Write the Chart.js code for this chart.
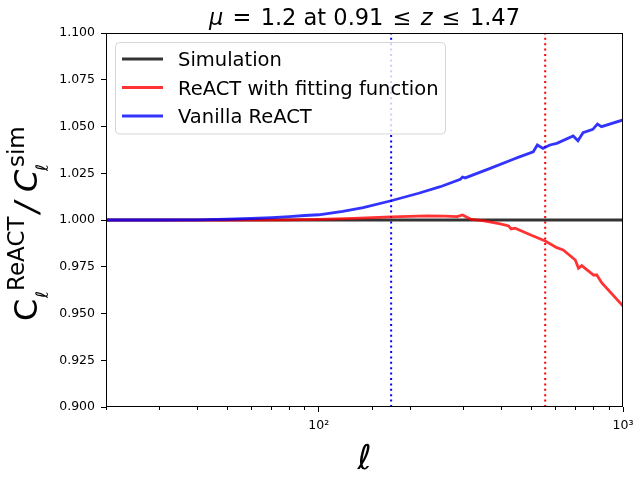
<!DOCTYPE html>
<html><head><meta charset="utf-8">
<script src="https://cdn.jsdelivr.net/npm/chart.js@4/dist/chart.umd.min.js"></script>
<style>html,body{margin:0;padding:0;background:#fff}</style>
</head><body>
<canvas id="c" width="640" height="480"></canvas>
<script>
// ---- data ----
const seriesLabels = ['Simulation', 'ReACT with fitting function', 'Vanilla ReACT'];
const ellSim = [20, 1000];
const simValues = [1.0, 1.0];
const ellFit = [20, 50, 80, 100, 130, 173, 227, 260, 285, 297, 315, 350, 395, 421, 429, 442, 500, 555, 606, 636, 697, 714, 732, 800, 820, 851, 1000];
const fitValues = [0.9999, 0.9999, 1.0001, 1.0003, 1.0009, 1.0017, 1.0022, 1.0021, 1.0018, 1.0027, 1.0005, 0.9995, 0.9979, 0.9968, 0.9952, 0.9956, 0.9918, 0.9888, 0.9852, 0.9840, 0.9786, 0.9742, 0.9756, 0.9706, 0.9706, 0.9665, 0.9540];
const ellVanilla = [20, 30, 40, 50, 60, 70, 80, 90, 100, 120, 140, 173, 213, 251, 292, 297, 303, 366, 436, 452, 507, 523, 546, 575, 606, 686, 711, 739, 796, 824, 850, 1000];
const vanillaValues = [1.0000, 1.0000, 1.0001, 1.0004, 1.0008, 1.0013, 1.0018, 1.0024, 1.0028, 1.0046, 1.0066, 1.0103, 1.0143, 1.0178, 1.0218, 1.0230, 1.0225, 1.0276, 1.0325, 1.0335, 1.0365, 1.0401, 1.0383, 1.0401, 1.0410, 1.0449, 1.0424, 1.0467, 1.0485, 1.0513, 1.0499, 1.0535];
const ellMarkVanilla = 173;   // blue dotted vertical line
const ellMarkFit = 555;       // red dotted vertical line
const xRange = [20, 1000];
const yRange = [0.9, 1.1];
const yStep = 0.025;
const xTickLabels = {100: '10\u00B2', 1000: '10\u00B3'};
// title pieces: [text, italic, relation-gap after]
const titlePieces = [['\u03BC', true, 1], ['=', false, 1], ['1.2 at 0.91', false, 1], ['\u2264', false, 1], ['z', true, 1], ['\u2264', false, 1], ['1.47', false, 0]];
const xTitle = '\u2113';

// ---- chart ----
const FAM = '"DejaVu Sans", sans-serif';
const pts = (xs, ys) => xs.map((x, i) => ({x: x, y: ys[i]}));

const decorPlugin = {
  id: 'decor',
  afterDatasetsDraw(chart) {
    const ctx = chart.ctx, a = chart.chartArea;
    ctx.save();
    // axes frame
    ctx.strokeStyle = '#000'; ctx.lineWidth = 1;
    ctx.strokeRect(Math.round(a.left) + 0.5, Math.round(a.top) + 0.5, Math.round(a.right - a.left) - 1, Math.round(a.bottom - a.top) - 1);
    // legend box
    const bx = 115.5, by = 42.5, bw = 330, bh = 91.5, r = 4;
    ctx.beginPath();
    ctx.moveTo(bx + r, by); ctx.lineTo(bx + bw - r, by); ctx.arcTo(bx + bw, by, bx + bw, by + r, r);
    ctx.lineTo(bx + bw, by + bh - r); ctx.arcTo(bx + bw, by + bh, bx + bw - r, by + bh, r);
    ctx.lineTo(bx + r, by + bh); ctx.arcTo(bx, by + bh, bx, by + bh - r, r);
    ctx.lineTo(bx, by + r); ctx.arcTo(bx, by, bx + r, by, r); ctx.closePath();
    ctx.fillStyle = 'rgba(255,255,255,0.8)'; ctx.fill();
    ctx.strokeStyle = 'rgba(204,204,204,0.8)'; ctx.stroke();
    const rows = [59, 87.5, 116];
    ctx.font = '19.5px ' + FAM; ctx.textBaseline = 'alphabetic'; ctx.textAlign = 'left';
    seriesLabels.forEach((lab, i) => {
      const ds = chart.data.datasets[i];
      ctx.strokeStyle = ds.borderColor; ctx.lineWidth = 3;
      ctx.beginPath(); ctx.moveTo(122, rows[i]); ctx.lineTo(163, rows[i]); ctx.stroke();
      ctx.fillStyle = '#000'; ctx.fillText(lab, 178, rows[i] + 7);
    });
    ctx.restore();
  },
  afterDraw(chart) {
    const ctx = chart.ctx, a = chart.chartArea;
    ctx.save();
    ctx.fillStyle = '#000'; ctx.textBaseline = 'alphabetic'; ctx.textAlign = 'left';
    // title: mathtext-like spacing
    const tf = (it) => (it ? 'italic ' : '') + '22.5px ' + FAM;
    const targetW = 311;
    let tw = 0, ngaps = 0;
    titlePieces.forEach(p => { ctx.font = tf(p[1]); tw += ctx.measureText(p[0]).width; ngaps += p[2]; });
    const gap = Math.max(4, (targetW - tw) / ngaps);
    let tx = (a.left + a.right) / 2 - targetW / 2;
    titlePieces.forEach(p => { ctx.font = tf(p[1]); ctx.fillText(p[0], tx, 25); tx += ctx.measureText(p[0]).width + gap * p[2]; });
    // x title
    ctx.font = 'italic 34px ' + FAM; ctx.textAlign = 'center';
    ctx.fillText(xTitle, (a.left + a.right) / 2, 469);
    // y title (rotated, with sub/superscripts)
    ctx.textAlign = 'left';
    ctx.translate(37, 321);
    ctx.rotate(-Math.PI / 2);
    const bigUp = '32px ' + FAM, bigIt = 'italic 32px ' + FAM, small = '23px ' + FAM, sub = 'italic 17px ' + FAM;
    ctx.font = bigUp; ctx.fillText('C', 0, 0);
    ctx.font = small; ctx.fillText('ReACT', 30, -13);
    ctx.font = sub; ctx.fillText('\u2113', 23, 11);
    ctx.font = bigIt; ctx.fillText('/', 108, 0);
    ctx.fillText('C', 129, 0);
    ctx.font = small; ctx.fillText('sim', 154, -13);
    ctx.font = sub; ctx.fillText('\u2113', 150, 11);
    ctx.restore();
  }
};

new Chart(document.getElementById('c'), {
  type: 'line',
  data: {
    datasets: [
      {label: seriesLabels[0], data: pts(ellSim, simValues), borderColor: 'rgba(0,0,0,0.8)', borderWidth: 2.8, order: 2},
      {label: seriesLabels[1], data: pts(ellFit, fitValues), borderColor: 'rgba(255,0,0,0.8)', borderWidth: 2.8, order: 1},
      {label: seriesLabels[2], data: pts(ellVanilla, vanillaValues), borderColor: 'rgba(0,0,255,0.8)', borderWidth: 2.8, order: 0},
      {label: '', data: pts([ellMarkVanilla, ellMarkVanilla], yRange), borderColor: '#0000ff', borderWidth: 2, borderDash: [2, 3.4], order: 3},
      {label: '', data: pts([ellMarkFit, ellMarkFit], yRange), borderColor: '#ff0000', borderWidth: 2, borderDash: [2, 3.4], order: 3}
    ]
  },
  options: {
    responsive: false, animation: false, devicePixelRatio: 1,
    layout: {padding: {top: 33, right: 17, left: 0, bottom: 0}},
    elements: {point: {radius: 0, hoverRadius: 0}, line: {tension: 0, fill: false, borderCapStyle: 'butt'}},
    plugins: {legend: {display: false}, tooltip: {enabled: false}, title: {display: false}},
    events: [],
    scales: {
      x: {
        type: 'logarithmic', min: xRange[0], max: xRange[1],
        afterFit(s) { s.height = 73; },
        border: {display: false},
        grid: {
          drawOnChartArea: false, drawTicks: true, tickLength: 5, tickColor: '#000', tickWidth: 1,
          tickBorderDash: (c) => {
            const v = c.tick ? c.tick.value : 0;
            const lg = Math.log10(v);
            return Math.abs(lg - Math.round(lg)) < 1e-6 ? [] : [3, 20];
          }
        },
        ticks: {
          autoSkip: false, maxRotation: 0, minRotation: 0, padding: 6, color: '#000',
          font: {family: FAM, size: 12.5},
          callback: (v) => xTickLabels[Math.round(v)] || ''
        }
      },
      y: {
        min: yRange[0], max: yRange[1],
        afterFit(s) { s.width = 106; },
        border: {display: false},
        grid: {drawOnChartArea: false, drawTicks: true, tickLength: 5, tickColor: '#000', tickWidth: 1},
        ticks: {stepSize: yStep, padding: 6, color: '#000', font: {family: FAM, size: 12.5}, callback: (v) => Number(v).toFixed(3)}
      }
    }
  },
  plugins: [decorPlugin]
});
</script>
</body></html>
